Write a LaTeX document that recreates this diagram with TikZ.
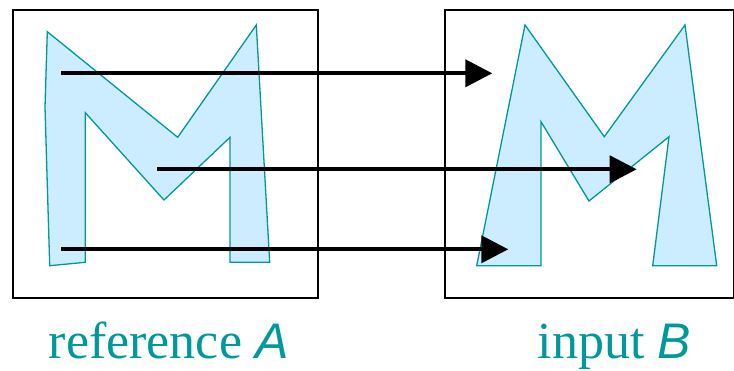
\documentclass[tikz,border=0pt]{standalone}
\usepackage{fontspec}
\setmainfont{Liberation Serif}
\newfontfamily\lsans{Liberation Sans}
\usetikzlibrary{arrows.meta}
\definecolor{tealc}{RGB}{0,153,153}
\definecolor{fillc}{RGB}{204,236,255}
\tikzset{
  frame/.style={draw=black,line width=1.5pt},
  mshape/.style={draw=tealc,fill=fillc,line width=1.3pt,line join=miter},
  corr/.style={line width=4pt,-{Triangle[length=27pt,width=27pt]}},
  lbl/.style={text=tealc,font=\fontsize{52}{60}\selectfont,inner sep=0pt,anchor=base west}
}
\begin{document}
\begin{tikzpicture}[x=1pt,y=-1pt]
\useasboundingbox (0,0) rectangle (734,370);
% frames
\node[frame,minimum width=305pt,minimum height=288.3pt,inner sep=0pt,anchor=north west] (boxA) at (12.3,9) {};
\node[frame,minimum width=289pt,minimum height=288.3pt,inner sep=0pt,anchor=north west] (boxB) at (444.3,9) {};
% M shapes
\draw[mshape] (47.3,31.7) -- (177.7,137.3) -- (256.3,25) -- (269.7,262.3) -- (230,262.3) -- (230,137.3) -- (164,200) -- (85.3,112.7) -- (85.3,262.3) -- (49.7,265.7) -- (45,107) -- cycle;
\draw[mshape] (525,25) -- (604.3,136.7) -- (685,25) -- (716.7,265.7) -- (652.7,265.7) -- (669,136.7) -- (589,201) -- (541,121.7) -- (541,265.7) -- (476.7,265.7) -- cycle;
% correspondence points
\coordinate (a1) at (61,73.3);
\coordinate (a2) at (157,169.3);
\coordinate (a3) at (61,249.3);
\coordinate (b1) at (492.3,73.3);
\coordinate (b2) at (636.7,169.3);
\coordinate (b3) at (508.3,249.3);
\draw[corr] (a1) -- (b1);
\draw[corr] (a2) -- (b2);
\draw[corr] (a3) -- (b3);
% labels
\node[lbl] (la) at (48.5,358.3) {reference {\lsans\itshape\fontsize{50}{60}\selectfont A}};
\node[lbl] (lb) at (537.5,358.3) {input {\lsans\itshape\fontsize{50}{60}\selectfont B}};
\end{tikzpicture}
\end{document}
